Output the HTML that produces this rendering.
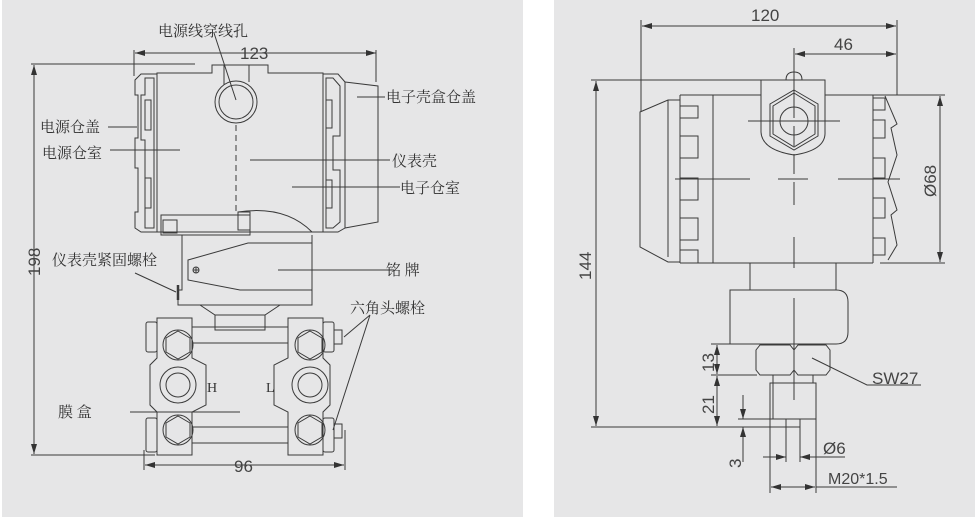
<!DOCTYPE html>
<html><head><meta charset="utf-8"><style>
html,body{margin:0;padding:0;background:#fff;}
svg{display:block}
text{font-family:"Liberation Serif","Noto Serif CJK SC","Noto Sans CJK SC",serif;fill:#333}
.d{font-family:"Liberation Sans",sans-serif;fill:#444}
</style></head><body>
<svg width="979" height="517" viewBox="0 0 979 517" xmlns="http://www.w3.org/2000/svg">
<defs>
<marker id="a" markerWidth="10" markerHeight="6" refX="10" refY="3" orient="auto-start-reverse" markerUnits="userSpaceOnUse"><path d="M0,0L10,3L0,6z" fill="#333"/></marker>
</defs>
<rect x="2" y="0" width="521" height="517" fill="#e6e6e7"/>
<rect x="554" y="0" width="421" height="517" fill="#e6e6e7"/>
<g fill="none" stroke="#3a3a3a" stroke-width="1">
<line x1="135" y1="53" x2="376" y2="53" marker-start="url(#a)" marker-end="url(#a)"/>
<line x1="134" y1="50" x2="134" y2="76"/><line x1="376" y1="50" x2="376" y2="82"/>
<line x1="31" y1="64" x2="195" y2="64"/><line x1="31" y1="455" x2="155" y2="455"/>
<line x1="34" y1="65" x2="34" y2="454" marker-start="url(#a)" marker-end="url(#a)"/>
<line x1="145" y1="465" x2="344" y2="465" marker-start="url(#a)" marker-end="url(#a)"/>
<line x1="144" y1="450" x2="144" y2="470"/><line x1="345" y1="430" x2="345" y2="470"/>
<path d="M157,73H212V65H268V73H323V232H157Z"/>
<path d="M224,65V85M249,65V82"/>
<circle cx="236" cy="102" r="21"/><circle cx="236" cy="102" r="17"/>
<line x1="236" y1="125" x2="236" y2="213" stroke-dasharray="6,4"/>
<path d="M157,74H141L135,80V95H138V138H135V168H138V212H135V228L141,232H157"/>
<path d="M145,78H154V228H145V140H141V95H145Z"/>
<rect x="145" y="100" width="6" height="30"/><rect x="145" y="178" width="6" height="30"/>
<path d="M323,74H338L345,82V228L338,232H323"/>
<path d="M326,78H333L340,86V136H333V170H340V222L333,228H326Z"/>
<rect x="326" y="100" width="6" height="28"/><rect x="326" y="180" width="6" height="28"/>
<path d="M345,82L378,86V222L345,228"/>
<rect x="161" y="215" width="89" height="20"/>
<rect x="163" y="220" width="14" height="13"/>
<rect x="238" y="212" width="12" height="18"/>
<path d="M238,212Q285,205 312,232"/>
<path d="M182,235V290H178V305H312V235"/>
<polygon points="188,260 248,243 312,243 312,290 240,290 188,280"/>
<circle cx="196" cy="270" r="3"/><path d="M193,270H199M196,267V273"/>
<line x1="178" y1="285" x2="178" y2="300" stroke-width="2.5"/>
<path d="M200,305L215,315H265L280,305"/>
<rect x="215" y="315" width="50" height="15"/>
<path d="M157,318H192V358L206,365V405L192,412V455H157V412L150,405V365L157,358Z"/>
<path d="M323,318H288V358L274,365V405L288,412V455H323V412L330,405V365L323,358Z"/>
<rect x="146" y="322" width="11" height="30" rx="2"/><rect x="146" y="418" width="11" height="34" rx="2"/>
<rect x="323" y="322" width="11" height="30" rx="2"/><rect x="323" y="418" width="11" height="34" rx="2"/>
<path d="M334,330h8v14h-8M334,424h8v14h-8"/>
<path d="M192,327H288M192,343H288M192,427H288M192,443H288"/>
<polygon points="178,331 190,338 190,352 178,359 166,352 166,338"/>
<polygon points="310,331 322,338 322,352 310,359 298,352 298,338"/>
<polygon points="178,416 190,423 190,437 178,444 166,437 166,423"/>
<polygon points="310,416 322,423 322,437 310,444 298,437 298,423"/>
<circle cx="178" cy="345" r="15"/><circle cx="310" cy="345" r="15"/>
<circle cx="178" cy="430" r="15"/><circle cx="310" cy="430" r="15"/>
<circle cx="178" cy="385" r="18"/><circle cx="178" cy="385" r="12"/>
<circle cx="310" cy="385" r="18"/><circle cx="310" cy="385" r="12"/>
<path d="M214,33L236,100M108,127H137M110,150H180M390,160H250M400,187H292M357,97H385M394,270H278M135,273L176,292M130,412H240M370,315L344,337M370,315L333,430"/>
<!-- RIGHT -->
<line x1="642" y1="26" x2="896" y2="26" marker-start="url(#a)" marker-end="url(#a)"/>
<line x1="641" y1="20" x2="641" y2="112"/><line x1="897" y1="20" x2="897" y2="95"/>
<line x1="795" y1="54" x2="896" y2="54" marker-start="url(#a)" marker-end="url(#a)"/>
<line x1="794" y1="48" x2="794" y2="205" stroke-dasharray="70,8,20,8,20,8,40"/>
<line x1="591" y1="80" x2="825" y2="80"/>
<line x1="591" y1="427" x2="800" y2="427"/>
<line x1="596" y1="81" x2="596" y2="426" marker-start="url(#a)" marker-end="url(#a)"/>
<line x1="873" y1="95" x2="945" y2="95"/><line x1="880" y1="263" x2="945" y2="263"/>
<line x1="940" y1="96" x2="940" y2="262" marker-start="url(#a)" marker-end="url(#a)"/>
<path d="M640,112L668,100H680V262H668L640,247Z"/>
<path d="M668,100V257"/>
<path d="M680,95H761M825,95H898M680,263H873"/>
<path d="M680,95V263M713,95V263M873,95V263"/>
<path d="M680,106H698V118H680M680,136H698V158H680M680,178H698V200H680M680,218H698V240H680M680,250H698V263"/>
<path d="M873,98H885V110H873M873,120H885V138H873M873,158H885V178H873M873,198H885V218H873M873,238H885V255H873"/>
<path d="M885,96L897,124L891,128L897,155L888,182L897,210L891,215L897,245L888,260"/>
<path d="M761,95V80H825V95M761,95V132Q762,150 794,155Q826,150 825,132V95"/>
<polygon points="794,90 818,104 818,136 794,150 770,136 770,104"/>
<polygon points="794,93 815,106 815,134 794,147 773,134 773,106"/>
<circle cx="794" cy="121" r="14"/>
<path d="M786,80q0,-8 8,-8q8,0 8,8"/>
<path d="M748,121H840M675,179H750M778,179H808M838,179H900"/>
<path d="M794,237V268"/>
<path d="M750,263V290M836,263V290"/>
<path d="M730,290H836Q848,290 848,302V332Q848,344 836,344H730Z"/>
<path d="M794,298V400"/>
<path d="M757,344H829M756,350L760,345H790L794,350L798,345H826L830,350V370L826,375H798L794,370L790,375H760L756,370Z"/>
<path d="M773,375V383H813V375"/>
<rect x="770" y="383" width="46" height="36"/>
<line x1="773" y1="383" x2="773" y2="419"/>
<path d="M786,419V427H800V419"/>
<path d="M711,344H757M711,375H757M738,419H770"/>
<line x1="717" y1="345" x2="717" y2="374" marker-start="url(#a)" marker-end="url(#a)"/>
<line x1="717" y1="376" x2="717" y2="426" marker-start="url(#a)" marker-end="url(#a)"/>
<line x1="743" y1="395" x2="743" y2="419" marker-end="url(#a)"/>
<line x1="743" y1="462" x2="743" y2="427" marker-end="url(#a)"/>
<path d="M770,419V493M816,419V493M786,427V462M800,427V462"/>
<line x1="763" y1="457" x2="786" y2="457" marker-end="url(#a)"/>
<line x1="845" y1="457" x2="800" y2="457" marker-end="url(#a)"/>
<line x1="771" y1="487" x2="815" y2="487" marker-start="url(#a)" marker-end="url(#a)"/>
<line x1="816" y1="487" x2="897" y2="487"/>
<path d="M812,358L867,385H921"/>
</g>
<g font-size="15">
<text x="158" y="36">电源线穿线孔</text>
<text x="386" y="102">电子壳盒仓盖</text>
<text x="40" y="132">电源仓盖</text>
<text x="42" y="158">电源仓室</text>
<text x="392" y="166">仪表壳</text>
<text x="400" y="193">电子仓室</text>
<text x="52" y="265">仪表壳紧固螺栓</text>
<text x="386" y="275">铭 牌</text>
<text x="350" y="313">六角头螺栓</text>
<text x="58" y="417">膜 盒</text>
<text x="207" y="392" font-size="14">H</text>
<text x="266" y="392" font-size="14">L</text>
</g>
<g class="d" font-size="17">
<text class="d" x="240" y="59">123</text>
<text class="d" x="234" y="472">96</text>
<text class="d" x="0" y="0" transform="translate(40,276) rotate(-90)">198</text>
<text class="d" x="751" y="21">120</text>
<text class="d" x="834" y="50">46</text>
<text class="d" x="0" y="0" transform="translate(591,280) rotate(-90)">144</text>
<text class="d" x="0" y="0" transform="translate(936,197) rotate(-90)">Ø68</text>
<text class="d" x="0" y="0" transform="translate(714,372) rotate(-90)">13</text>
<text class="d" x="0" y="0" transform="translate(714,414) rotate(-90)">21</text>
<text class="d" x="0" y="0" transform="translate(741,468) rotate(-90)">3</text>
<text class="d" x="872" y="384">SW27</text>
<text class="d" x="823" y="454">Ø6</text>
<text class="d" x="828" y="484" font-size="16">M20*1.5</text>
</g>
</svg>
</body></html>
